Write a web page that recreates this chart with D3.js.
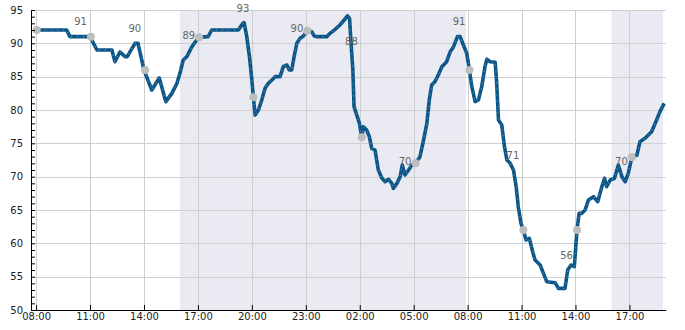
<!DOCTYPE html>
<html>
<head>
<meta charset="utf-8">
<script src="https://cdn.jsdelivr.net/npm/d3@7"></script>
<style>
  body { margin: 0; background: #fff; }
  svg { display: block; font-family: "DejaVu Sans", sans-serif; }
</style>
</head>
<body>
<svg id="chart" width="685" height="330"></svg>
<script>
// ─── Data ─────────────────────────────────────────────────────────────────────
// times are "day HH:MM" (day 1 = first day, day 2 = next day)
const times = [
  '1 07:50','1 09:42','1 09:53','1 11:00','1 11:23','1 12:13','1 12:23','1 12:40','1 12:57','1 13:04',
  '1 13:30','1 13:40','1 14:00','1 14:26','1 14:51','1 15:13','1 15:33','1 15:50','1 16:00','1 16:11',
  '1 16:23','1 16:40','1 16:56','1 17:00','1 17:34','1 17:46','1 19:15','1 19:30','1 19:34','1 19:43',
  '1 19:52','1 20:00','1 20:05','1 20:11','1 20:22','1 20:33','1 20:44','1 20:55','1 21:07','1 21:18',
  '1 21:34','1 21:45','1 21:57','1 22:05','1 22:13','1 22:21','1 22:30','1 22:41','1 22:52','1 23:05',
  '1 23:20','1 23:28','1 23:37','2 00:10','2 00:21','2 00:38','2 00:54','2 01:08','2 01:19','2 01:26',
  '2 01:31','2 01:37','2 01:41','2 01:50','2 01:59','2 02:07','2 02:12','2 02:23','2 02:32','2 02:40',
  '2 02:51','2 03:02','2 03:14','2 03:25','2 03:36','2 03:47','2 03:52','2 04:04','2 04:15','2 04:22',
  '2 04:31','2 04:43','2 04:54','2 05:06','2 05:21','2 05:33','2 05:44','2 05:52','2 06:00','2 06:11',
  '2 06:22','2 06:34','2 06:50','2 07:02','2 07:13','2 07:26','2 07:35','2 07:46','2 07:57','2 08:06',
  '2 08:14','2 08:25','2 08:36','2 08:47','2 08:58','2 09:04','2 09:15','2 09:32','2 09:37','2 09:43',
  '2 09:54','2 10:03','2 10:11','2 10:22','2 10:33','2 10:42','2 10:49','2 10:58','2 11:06','2 11:15',
  '2 11:26','2 11:37','2 11:45','2 12:02','2 12:13','2 12:24','2 12:52','2 13:03','2 13:25','2 13:34',
  '2 13:45','2 13:56','2 14:05','2 14:12','2 14:21','2 14:32','2 14:43','2 15:00','2 15:14','2 15:28',
  '2 15:37','2 15:44','2 15:56','2 16:10','2 16:23','2 16:35','2 16:46','2 16:56','2 17:08','2 17:25',
  '2 17:35','2 17:52','2 18:14','2 18:26','2 18:42','2 18:56'
];
const values = [
  92, 92, 91, 91, 89, 89, 87.25, 88.7, 88, 88,
  90, 90, 86, 83, 84.8, 81.25, 82.5, 84, 85.5, 87.5,
  88, 89.5, 90.5, 90.9, 91, 92, 92, 93, 93.1, 91,
  88, 84.5, 81.9, 79.25, 80, 81.5, 83.25, 84, 84.5, 85,
  85, 86.5, 86.75, 86, 86, 88, 90, 90.75, 91.1, 91.9,
  91.75, 91.1, 91, 91, 91.5, 92.1, 92.75, 93.5, 94.1, 93.75,
  90, 86, 80.5, 79.25, 78, 75.9, 77.5, 77, 76, 74.25,
  74, 71, 69.75, 69.25, 69.6, 69, 68.25, 69, 70, 71.75,
  70.25, 71, 71.75, 72, 73, 75.5, 78, 81.5, 83.75, 84.25,
  85.25, 86.5, 87.25, 88.75, 89.5, 91, 91, 89.75, 88.5, 86,
  83.5, 81.25, 81.5, 83.5, 86.5, 87.6, 87.25, 87.15, 84, 78.5,
  77.75, 74.5, 72.5, 72, 71, 68.5, 65.5, 63, 62, 60.5,
  60.75, 58.75, 57.5, 56.75, 55.5, 54.25, 54.1, 53.25, 53.25, 56,
  56.75, 56.5, 62, 64.5, 64.5, 65, 66.5, 67, 66.25, 68.5,
  69.75, 68.5, 69.5, 69.75, 71.75, 70, 69.25, 70.5, 72.9, 73.25,
  75.25, 75.75, 76.75, 78, 79.75, 81
];

// grey markers every ~3 hours, and the value labels that sit beside them
const markerTimes  = ['1 08:02','1 11:03','1 14:04','1 17:04','1 20:05','1 23:05','2 02:07','2 05:06','2 08:06','2 11:06','2 14:05','2 17:08'];
const markerValues = [92, 91, 86, 90.9, 81.9, 91.9, 75.9, 72, 86, 62, 62, 72.9];
const labelValues  = [null, 91, 90, 89, 93, 90, 88, 70, 91, 71, 56, 70];

const tickTimes = ['1 08:00','1 11:00','1 14:00','1 17:00','1 20:00','1 23:00','2 02:00','2 05:00','2 08:00','2 11:00','2 14:00','2 17:00'];
const yTicks    = [50, 55, 60, 65, 70, 75, 80, 85, 90, 95];
const nightBands = [['1 16:00', '2 07:55'], ['2 16:00', '2 18:52']];
const xExtent    = ['1 07:43', '2 19:01'];
const yExtent    = [50, 95];

// ─── Setup ────────────────────────────────────────────────────────────────────
const parse = d3.utcParse('%d %H:%M');
const M = { left: 31, right: 665.7, top: 10, bottom: 310 };

const series  = times.map((t, i) => ({ t: parse(t), v: values[i] }));
const markers = markerTimes.map((t, i) => ({ t: parse(t), v: markerValues[i], label: labelValues[i] }));

const x = d3.scaleUtc().domain(xExtent.map(parse)).range([M.left, M.right]);
const y = d3.scaleLinear().domain(yExtent).range([M.bottom, M.top]);

const svg = d3.select('#chart');

// ─── Night shading ────────────────────────────────────────────────────────────
svg.append('g')
  .selectAll('rect')
  .data(nightBands)
  .join('rect')
  .attr('x', d => x(parse(d[0])))
  .attr('y', M.top)
  .attr('width', d => x(parse(d[1])) - x(parse(d[0])))
  .attr('height', M.bottom - M.top)
  .attr('fill', '#eaebf2');

// ─── Grid ─────────────────────────────────────────────────────────────────────
const grid = svg.append('g').attr('stroke', '#cfcfcf').attr('stroke-width', 1);
grid.selectAll('.h')
  .data(yTicks)
  .join('line')
  .attr('x1', M.left).attr('x2', M.right)
  .attr('y1', d => Math.round(y(d)) + 0.5)
  .attr('y2', d => Math.round(y(d)) + 0.5);
grid.selectAll('.v')
  .data(tickTimes.map(parse))
  .join('line')
  .attr('x1', d => Math.round(x(d)) + 0.5)
  .attr('x2', d => Math.round(x(d)) + 0.5)
  .attr('y1', M.top).attr('y2', M.bottom);

// ─── Line ─────────────────────────────────────────────────────────────────────
const line = d3.line().x(d => x(d.t)).y(d => y(d.v));

svg.append('path')
  .datum(series)
  .attr('d', line)
  .attr('fill', 'none')
  .attr('stroke', '#0d5688')
  .attr('stroke-width', 3.6)
  .attr('stroke-linejoin', 'round');

// thin dotted highlight inside the line
svg.append('path')
  .datum(series)
  .attr('d', line)
  .attr('fill', 'none')
  .attr('stroke', '#8fb2d0')
  .attr('stroke-width', 0.8)
  .attr('stroke-dasharray', '1 5');

// ─── Markers + labels ─────────────────────────────────────────────────────────
svg.append('g')
  .selectAll('circle')
  .data(markers)
  .join('circle')
  .attr('cx', d => x(d.t))
  .attr('cy', d => y(d.v))
  .attr('r', 4)
  .attr('fill', '#bdbdbd');

svg.append('g')
  .selectAll('text')
  .data(markers.filter(d => d.label != null))
  .join('text')
  .attr('x', d => x(d.t) - 4)
  .attr('y', d => y(d.label) - 11.5)
  .attr('text-anchor', 'end')
  .attr('font-size', 10)
  .attr('fill', '#666')
  .text(d => d.label);

// ─── Axes ─────────────────────────────────────────────────────────────────────
const yAxis = d3.axisLeft(y)
  .tickValues(d3.range(yExtent[0], yExtent[1] + 1))
  .tickFormat(d => d % 5 === 0 ? d : '')
  .tickSizeInner(-4)
  .tickSizeOuter(0)
  .tickPadding(8);

const gy = svg.append('g')
  .attr('transform', `translate(${M.left},0)`)
  .call(yAxis);

const xAxis = d3.axisBottom(x)
  .tickValues(tickTimes.map(parse))
  .tickFormat(d3.utcFormat('%H:%M'))
  .tickSizeInner(-5)
  .tickSizeOuter(0)
  .tickPadding(3);

const gx = svg.append('g')
  .attr('transform', `translate(0,${M.bottom})`)
  .call(xAxis);

[gx, gy].forEach(g => {
  g.attr('font-family', '"DejaVu Sans", sans-serif').attr('font-size', 10);
  g.selectAll('.domain, .tick line').attr('stroke', '#000');
  g.selectAll('.tick text').attr('fill', '#222');
});
</script>
</body>
</html>
